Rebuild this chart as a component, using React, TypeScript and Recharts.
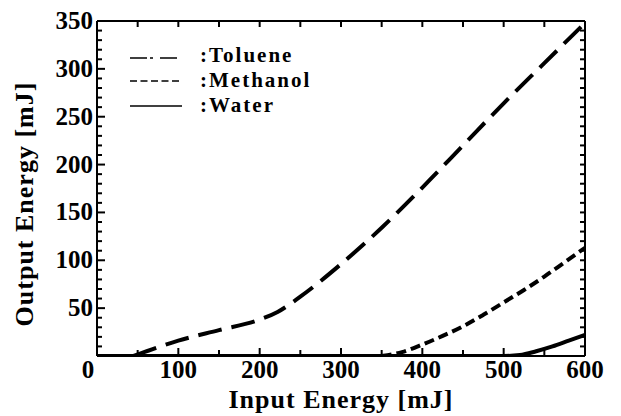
import { LineChart, Line, XAxis, YAxis } from "recharts";

// values
const tolueneX = [45, 100, 150, 200, 222, 250, 300, 350, 400, 450, 500, 550, 600];
const tolueneY = [0, 16, 27, 38, 46, 62, 96, 134, 176, 220, 264, 306, 348];

const methanolX = [350, 375, 400, 425, 450, 475, 500, 525, 550, 575, 600];
const methanolY = [0, 4, 12, 21, 31, 43, 56, 69, 83, 98, 113];

const waterX = [0, 500, 520, 540, 560, 580, 600];
const waterY = [0, 0, 1, 5, 10, 16, 22];

const xLabels = [0, 100, 200, 300, 400, 500, 600];
const yLabels = [50, 100, 150, 200, 250, 300, 350];
const xTickMarks = Array.from({ length: 13 }, (_, i) => i * 50);
const yTickMarks = Array.from({ length: 36 }, (_, i) => i * 10);

const toRows = (xs: number[], ys: number[]) => xs.map((x, i) => ({ x, y: ys[i] }));

const W = 605;
const H = 408;
const FONT = "'Liberation Serif', 'Times New Roman', serif";
const INK = "#000";

function BottomTick({ x, y, payload }: any) {
  const v = payload.value;
  const major = xLabels.includes(v);
  return (
    <g>
      <path d={`M${x},${y}V${y - (major ? 8 : 6)}`} stroke={INK} strokeWidth={2} fill="none" />
      {major && (
        <text x={x + (v === 0 ? -9 : 0)} y={y + 22} textAnchor="middle" fontFamily={FONT} fontSize={25} fontWeight="bold" fill={INK}>
          {v}
        </text>
      )}
    </g>
  );
}

function TopTick({ x, y }: any) {
  return <path d={`M${x},${y}V${y + 6}`} stroke={INK} strokeWidth={2} fill="none" />;
}

function LeftTick({ x, y, payload }: any) {
  const v = payload.value;
  const major = yLabels.includes(v);
  return (
    <g>
      <path d={`M${x},${y}H${x + (major ? 8 : 5)}`} stroke={INK} strokeWidth={2} fill="none" />
      {major && (
        <text x={x - 4} y={y + 8} textAnchor="end" fontFamily={FONT} fontSize={25} fontWeight="bold" fill={INK}>
          {v}
        </text>
      )}
    </g>
  );
}

function RightTick({ x, y }: any) {
  return <path d={`M${x},${y}H${x - 5}`} stroke={INK} strokeWidth={2} fill="none" />;
}

export default function App() {
  const axisLine = { stroke: INK, strokeWidth: 2 };
  return (
    <div style={{ position: "relative", width: W, height: H }}>
      <LineChart width={W} height={H} margin={{ top: 12, right: 27, bottom: 59, left: 88 }}>
        <XAxis xAxisId="bottom" type="number" dataKey="x" domain={[0, 600]} ticks={xTickMarks} interval={0}
          height={1} tickSize={0} tickMargin={0} axisLine={axisLine} tickLine={false}
          tick={(p: any) => <BottomTick {...p} />} allowDataOverflow />
        <XAxis xAxisId="top" orientation="top" type="number" dataKey="x" domain={[0, 600]} ticks={xTickMarks} interval={0}
          height={1} tickSize={0} tickMargin={0} axisLine={axisLine} tickLine={false}
          tick={(p: any) => <TopTick {...p} />} allowDataOverflow />
        <YAxis yAxisId="left" type="number" domain={[0, 350]} ticks={yTickMarks} interval={0}
          width={1} tickSize={0} tickMargin={0} axisLine={axisLine} tickLine={false}
          tick={(p: any) => <LeftTick {...p} />} allowDataOverflow />
        <YAxis yAxisId="right" orientation="right" type="number" domain={[0, 350]} ticks={yTickMarks} interval={0}
          width={1} tickSize={0} tickMargin={0} axisLine={axisLine} tickLine={false}
          tick={(p: any) => <RightTick {...p} />} allowDataOverflow />
        <Line xAxisId="bottom" yAxisId="left" data={toRows(waterX, waterY)} dataKey="y" name="Water"
          type="monotone" stroke={INK} strokeWidth={4} dot={false} isAnimationActive={false} />
        <Line xAxisId="bottom" yAxisId="left" data={toRows(methanolX, methanolY)} dataKey="y" name="Methanol"
          type="monotone" stroke={INK} strokeWidth={4} strokeDasharray="10 5" dot={false} isAnimationActive={false} />
        <Line xAxisId="bottom" yAxisId="left" data={toRows(tolueneX, tolueneY)} dataKey="y" name="Toluene"
          type="monotone" stroke={INK} strokeWidth={4} strokeDasharray="24 10" dot={false} isAnimationActive={false} />
      </LineChart>
      <svg width={W} height={H} style={{ position: "absolute", left: 0, top: 0, pointerEvents: "none" }}>
        <g fontFamily={FONT} fontWeight="bold" fill={INK}>
          <line x1={122} x2={172} y1={50} y2={50} stroke={INK} strokeWidth={1.3} strokeDasharray="17 3 3 7" />
          <text x={192} y={54} fontSize={21} letterSpacing={2}>:Toluene</text>
          <line x1={122} x2={172} y1={73} y2={73} stroke={INK} strokeWidth={1.3} strokeDasharray="7 3.5" />
          <text x={192} y={79} fontSize={21} letterSpacing={2}>:Methanol</text>
          <line x1={122} x2={174} y1={98} y2={98} stroke={INK} strokeWidth={1.3} />
          <text x={192} y={104} fontSize={21} letterSpacing={2}>:Water</text>
          <text x={333} y={400} fontSize={26} letterSpacing={1} textAnchor="middle">Input Energy [mJ]</text>
          <text x={25} y={196} fontSize={26} letterSpacing={1} textAnchor="middle" transform="rotate(-90 25 196)">
            Output Energy [mJ]
          </text>
        </g>
      </svg>
    </div>
  );
}
